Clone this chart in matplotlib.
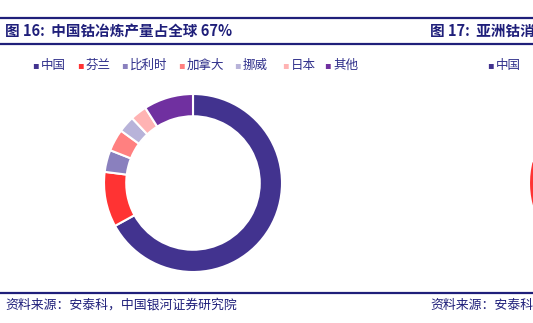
import matplotlib.pyplot as plt
from matplotlib.lines import Line2D

plt.rcParams['font.family'] = ['Noto Sans CJK SC', 'DejaVu Sans']

# data
labels = ['中国', '芬兰', '比利时', '加拿大', '挪威', '日本', '其他']
shares = [67, 10, 4, 4, 3, 3, 9]
colors = ['#42338F', '#FF3333', '#8A80BE', '#FF8080', '#B8B3D9', '#FFB3B3', '#7030A0']

asia_labels = ['中国', '日本', '韩国', '其他']
asia_shares = [70, 9, 6, 15]
asia_colors = ['#42338F', '#FF3333', '#8A80BE', '#FF8080']

W, H = 533, 323
fig = plt.figure(figsize=(W / 100, H / 100), dpi=100)
navy = '#1F1F7A'


def px(x, y):
    return x / W, 1 - y / H


def hline(y, x0, x1, lw):
    fig.add_artist(Line2D([x0 / W, x1 / W], [1 - y / H, 1 - y / H],
                          color=navy, lw=lw, transform=fig.transFigure))


# header / footer rules
hline(18, 0, W, 1.6)
hline(44, 0, W, 1.6)
hline(293, 0, W, 1.6)

fig.text(*px(5, 31), '图 16:  中国钴冶炼产量占全球 67%', fontsize=10.5,
         fontweight='bold', color=navy, va='center')
fig.text(*px(430, 31), '图 17:  亚洲钴消', fontsize=10.5,
         fontweight='bold', color=navy, va='center')
fig.text(*px(5, 305), '资料来源：安泰科，中国银河证券研究院', fontsize=9.3,
         style='italic', color=navy, va='center')
fig.text(*px(430, 305), '资料来源：安泰科', fontsize=9.3,
         style='italic', color=navy, va='center')

# legend
leg_x = [35, 80, 124, 181, 237, 285, 327]
for x, lab, c in zip(leg_x, labels, colors):
    fig.text(*px(x, 65), '▪', fontsize=7, color=c, va='center', ha='center',
             family='DejaVu Sans')
    fig.text(*px(x + 6, 65), lab, fontsize=9, color='#2E2E8A', va='center')
fig.text(*px(490, 65), '▪', fontsize=7, color=asia_colors[0], va='center',
         ha='center', family='DejaVu Sans')
fig.text(*px(496, 65), asia_labels[0], fontsize=9, color='#2E2E8A', va='center')

# donut 1
ax = fig.add_axes([104 / W, 1 - 272 / H, 178 / W, 178 / H])
ax.pie(shares, colors=colors, startangle=90, counterclock=False,
       wedgeprops=dict(width=0.25, edgecolor='white', linewidth=1.5))
ax.set_xlim(-1, 1)
ax.set_ylim(-1, 1)
ax.set_aspect('equal')
ax.axis('off')

# donut 2 (cut off at right edge)
ax2 = fig.add_axes([529 / W, 1 - 272 / H, 178 / W, 178 / H])
ax2.pie(asia_shares, colors=asia_colors, startangle=90, counterclock=False,
        wedgeprops=dict(width=0.25, edgecolor='white', linewidth=1.5))
ax2.set_xlim(-1, 1)
ax2.set_ylim(-1, 1)
ax2.set_aspect('equal')
ax2.axis('off')

fig.savefig('out.png', dpi=100)
